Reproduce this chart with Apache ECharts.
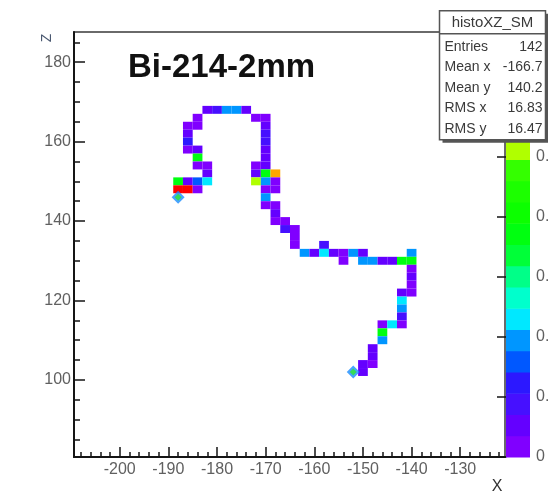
<!DOCTYPE html>
<html>
<head>
<meta charset="utf-8">
<script src="https://cdn.jsdelivr.net/npm/echarts@6/dist/echarts.min.js"></script>
<style>
  html, body { margin: 0; padding: 0; background: #ffffff; }
  #chart { width: 548px; height: 498px; }
</style>
</head>
<body>
<div id="chart"></div>
<script>
// Bin centres (mm) of the filled 2 mm x 2 mm cells and their contents
const binX = [
  -182, -180, -178, -176, -174,
  -184, -172, -170,
  -186, -184, -170,
  -186, -170,
  -186, -170,
  -186, -184, -170,
  -184, -170,
  -184, -182, -172, -170,
  -182, -172, -170, -168,
  -188, -186, -184, -182, -172, -170, -168,
  -188, -186, -184, -170, -168,
  -170,
  -170, -168,
  -168,
  -168, -166,
  -166, -164,
  -164,
  -164, -158,
  -162, -160, -158, -156, -154, -152, -150, -140,
  -154, -150, -148, -146, -144, -142, -140,
  -140,
  -140,
  -140,
  -142, -140,
  -142,
  -142,
  -142,
  -146, -144, -142,
  -146,
  -146,
  -148,
  -148,
  -150, -148,
  -150
];
const binZ = [
  168, 168, 168, 168, 168,
  166, 166, 166,
  164, 164, 164,
  162, 162,
  160, 160,
  158, 158, 158,
  156, 156,
  154, 154, 154, 154,
  152, 152, 152, 152,
  150, 150, 150, 150, 150, 150, 150,
  148, 148, 148, 148, 148,
  146,
  144, 144,
  142,
  140, 140,
  138, 138,
  136,
  134, 134,
  132, 132, 132, 132, 132, 132, 132, 132,
  130, 130, 130, 130, 130, 130, 130,
  128,
  126,
  124,
  122, 122,
  120,
  118,
  116,
  114, 114, 114,
  112,
  110,
  108,
  106,
  104, 104,
  102
];
const binContent = [
  0.011, 0.018, 0.039, 0.039, 0.011,
  0.004, 0.004, 0.004,
  0.004, 0.004, 0.011,
  0.011, 0.018,
  0.025, 0.018,
  0.004, 0.011, 0.011,
  0.074, 0.011,
  0.004, 0.004, 0.004, 0.011,
  0.011, 0.011, 0.074, 0.117,
  0.074, 0.011, 0.032, 0.046, 0.103, 0.039, 0.004,
  0.1417, 0.1417, 0.004, 0.004, 0.004,
  0.039,
  0.004, 0.004,
  0.011,
  0.004, 0.004,
  0.018, 0.004,
  0.004,
  0.004, 0.018,
  0.039, 0.011, 0.046, 0.011, 0.004, 0.039, 0.011, 0.039,
  0.004, 0.039, 0.039, 0.011, 0.011, 0.074, 0.074,
  0.004,
  0.011,
  0.004,
  0.011, 0.004,
  0.046,
  0.039,
  0.018,
  0.004, 0.046, 0.004,
  0.074,
  0.039,
  0.011,
  0.011,
  0.011, 0.004,
  0.011
];
const binWidth = 2;

// Track end points
const vertexX = [-188, -152];
const vertexZ = [146, 102];

// Axis ticks
const xMajor = [-200, -190, -180, -170, -160, -150, -140, -130];
const xMinor = [-208, -206, -204, -202, -198, -196, -194, -192, -188, -186, -184, -182,
  -178, -176, -174, -172, -168, -166, -164, -162, -158, -156, -154, -152,
  -148, -146, -144, -142, -138, -136, -134, -132, -128, -126, -124, -122];
const zMajor = [100, 120, 140, 160, 180];
const zMinor = [85, 90, 95, 105, 110, 115, 125, 130, 135, 145, 150, 155, 165, 170, 175, 185];
const paletteTicks = [0, 0.02, 0.04, 0.06, 0.08, 0.1];

// Statistics box
const statsTitle = 'histoXZ_SM';
const statsNames = ['Entries', 'Mean x', 'Mean y', 'RMS x', 'RMS y'];
const statsValues = ['142', '-166.7', '140.2', '16.83', '16.47'];

// Colour contours: 20 levels from 0 to the histogram maximum
const zMax = 0.1417;
const nContours = 20;
const palette = ['#8000ff', '#6400ff', '#4610ff', '#2c18ff', '#0058ff', '#0096ff', '#00e8ff',
  '#00ffcc', '#00ff88', '#00ff38', '#00ff10', '#0cff00', '#1cff00', '#34ff00', '#b0ff00',
  '#ffee00', '#ffa600', '#ff7700', '#ff3400', '#ff0000'];
const zLevels = [];
for (let k = 0; k <= nContours; k++) zLevels.push(zMax * k / nContours);

const pieces = palette.map((c, k) => (
  k === nContours - 1
    ? { gte: zLevels[k], lte: zLevels[k + 1] * 1.001, color: c }
    : { gte: zLevels[k], lt: zLevels[k + 1], color: c }
));

const cellData = binX.map((x, i) => [x, binZ[i], binContent[i]]);
const bandData = palette.map((c, k) => [zLevels[k], zLevels[k + 1], (zLevels[k] + zLevels[k + 1]) / 2]);
const vertexData = vertexX.map((x, i) => [x, vertexZ[i]]);

const FONT = '"Liberation Sans", Arial, Helvetica, sans-serif';
const LABEL = { fontFamily: FONT, fontSize: 16, color: '#606060' };

const chart = echarts.init(document.getElementById('chart'), null, { renderer: 'canvas' });

const statsChildren = [
  { type: 'rect', z: 100, shape: { x: 3, y: 3, width: 106, height: 129 }, style: { fill: '#555555' } },
  { type: 'rect', z: 101, shape: { x: 0, y: 0, width: 106, height: 129 }, style: { fill: '#ffffff', stroke: '#555555', lineWidth: 1.5 } },
  { type: 'line', z: 102, shape: { x1: 0, y1: 23, x2: 106, y2: 23 }, style: { stroke: '#555555', lineWidth: 1.5 } },
  { type: 'text', z: 102, x: 53, y: 12, style: { text: statsTitle, font: '15px ' + FONT, fill: '#3a3a3a', align: 'center', verticalAlign: 'middle' } }
].concat(statsNames.map((n, i) => ({
  type: 'text', z: 102, x: 5, y: 36 + i * 20.5,
  style: { text: n, font: '14px ' + FONT, fill: '#3a3a3a', align: 'left', verticalAlign: 'middle' }
}))).concat(statsValues.map((v, i) => ({
  type: 'text', z: 102, x: 103, y: 36 + i * 20.5,
  style: { text: v, font: '14px ' + FONT, fill: '#3a3a3a', align: 'right', verticalAlign: 'middle' }
})));

chart.setOption({
  animation: false,
  backgroundColor: '#ffffff',
  title: {
    text: 'Bi-214-2mm',
    left: 123,
    top: 46,
    textStyle: { fontFamily: FONT, fontSize: 33, fontWeight: 'bold', color: '#111111' }
  },
  grid: [
    { left: 74, top: 32, width: 431, height: 425, show: true, borderColor: '#3a3a3a', borderWidth: 1.5,
      backgroundColor: 'transparent', containLabel: false, outerBoundsMode: 'none' },
    { left: 506, top: 32, width: 24, height: 425, show: false, containLabel: false, outerBoundsMode: 'none' }
  ],
  visualMap: {
    type: 'piecewise',
    show: false,
    dimension: 2,
    seriesIndex: [0, 1],
    pieces: pieces
  },
  xAxis: [
    {
      type: 'value', gridIndex: 0, min: -209.4, max: -120.8, position: 'bottom',
      axisLine: { show: true, onZero: false, lineStyle: { color: '#151515', width: 2 } },
      axisTick: { show: true, inside: true, length: 10, customValues: xMajor, lineStyle: { color: '#151515', width: 1.5 } },
      axisLabel: Object.assign({ customValues: xMajor, margin: 5 }, LABEL),
      splitLine: { show: false }
    },
    {
      type: 'value', gridIndex: 0, min: -209.4, max: -120.8, position: 'bottom',
      axisLine: { show: false },
      axisTick: { show: true, inside: true, length: 5, customValues: xMinor, lineStyle: { color: '#151515', width: 1.5 } },
      axisLabel: { show: false },
      splitLine: { show: false }
    },
    {
      type: 'value', gridIndex: 1, min: 0, max: 1, show: false
    }
  ],
  yAxis: [
    {
      type: 'value', gridIndex: 0, min: 80.6, max: 187.6, position: 'left',
      axisLine: { show: true, onZero: false, lineStyle: { color: '#151515', width: 2 } },
      axisTick: { show: true, inside: true, length: 11, customValues: zMajor, lineStyle: { color: '#151515', width: 1.5 } },
      axisLabel: Object.assign({ customValues: zMajor, margin: 3 }, LABEL),
      splitLine: { show: false }
    },
    {
      type: 'value', gridIndex: 0, min: 80.6, max: 187.6, position: 'left',
      axisLine: { show: false },
      axisTick: { show: true, inside: true, length: 6, customValues: zMinor, lineStyle: { color: '#151515', width: 1.5 } },
      axisLabel: { show: false },
      splitLine: { show: false }
    },
    {
      type: 'value', gridIndex: 1, min: 0, max: zMax, position: 'right',
      axisLine: { show: true, lineStyle: { color: '#333333', width: 1 } },
      axisTick: { show: true, inside: true, length: 9, customValues: paletteTicks, lineStyle: { color: '#151515', width: 1.5 } },
      axisLabel: Object.assign({
        customValues: paletteTicks, margin: 6,
        formatter: v => (v === 0 ? '0' : v.toFixed(2).replace(/0$/, ''))
      }, LABEL),
      splitLine: { show: false }
    }
  ],
  series: [
    {
      type: 'custom',
      name: 'histoXZ_SM',
      coordinateSystem: 'cartesian2d',
      xAxisIndex: 0, yAxisIndex: 0,
      data: cellData,
      encode: { x: 0, y: 1 },
      renderItem: function (params, api) {
        const h = binWidth / 2;
        const a = api.coord([api.value(0) - h, api.value(1) + h]);
        const b = api.coord([api.value(0) + h, api.value(1) - h]);
        return {
          type: 'rect',
          shape: { x: a[0], y: a[1], width: b[0] - a[0], height: b[1] - a[1] },
          style: { fill: api.visual('color') }
        };
      }
    },
    {
      type: 'custom',
      name: 'palette',
      coordinateSystem: 'cartesian2d',
      xAxisIndex: 2, yAxisIndex: 2,
      data: bandData,
      encode: { y: [0, 1] },
      silent: true,
      renderItem: function (params, api) {
        const a = api.coord([0, api.value(1)]);
        const b = api.coord([1, api.value(0)]);
        return {
          type: 'rect',
          shape: { x: a[0], y: a[1], width: b[0] - a[0], height: b[1] - a[1] + 0.5 },
          style: { fill: api.visual('color') }
        };
      },
      z: 1
    },
    {
      type: 'scatter',
      xAxisIndex: 0, yAxisIndex: 0,
      data: vertexData,
      symbol: 'diamond',
      symbolSize: 13,
      itemStyle: { color: '#1a8cff' },
      z: 3
    },
    {
      type: 'scatter',
      xAxisIndex: 0, yAxisIndex: 0,
      data: vertexData,
      symbol: 'diamond',
      symbolSize: 7,
      itemStyle: { color: '#30e830' },
      z: 4
    }
  ],
  graphic: [
    {
      type: 'text', x: 47, y: 38, rotation: Math.PI / 2,
      style: { text: 'Z', font: '14px ' + FONT, fill: '#4a5870', align: 'center', verticalAlign: 'middle' }
    },
    {
      type: 'text', x: 497, y: 487,
      style: { text: 'X', font: '16px ' + FONT, fill: '#333333', align: 'center', verticalAlign: 'middle' }
    },
    {
      type: 'group', left: 437, top: 10, z: 100,
      children: statsChildren
    }
  ]
});
</script>
</body>
</html>
